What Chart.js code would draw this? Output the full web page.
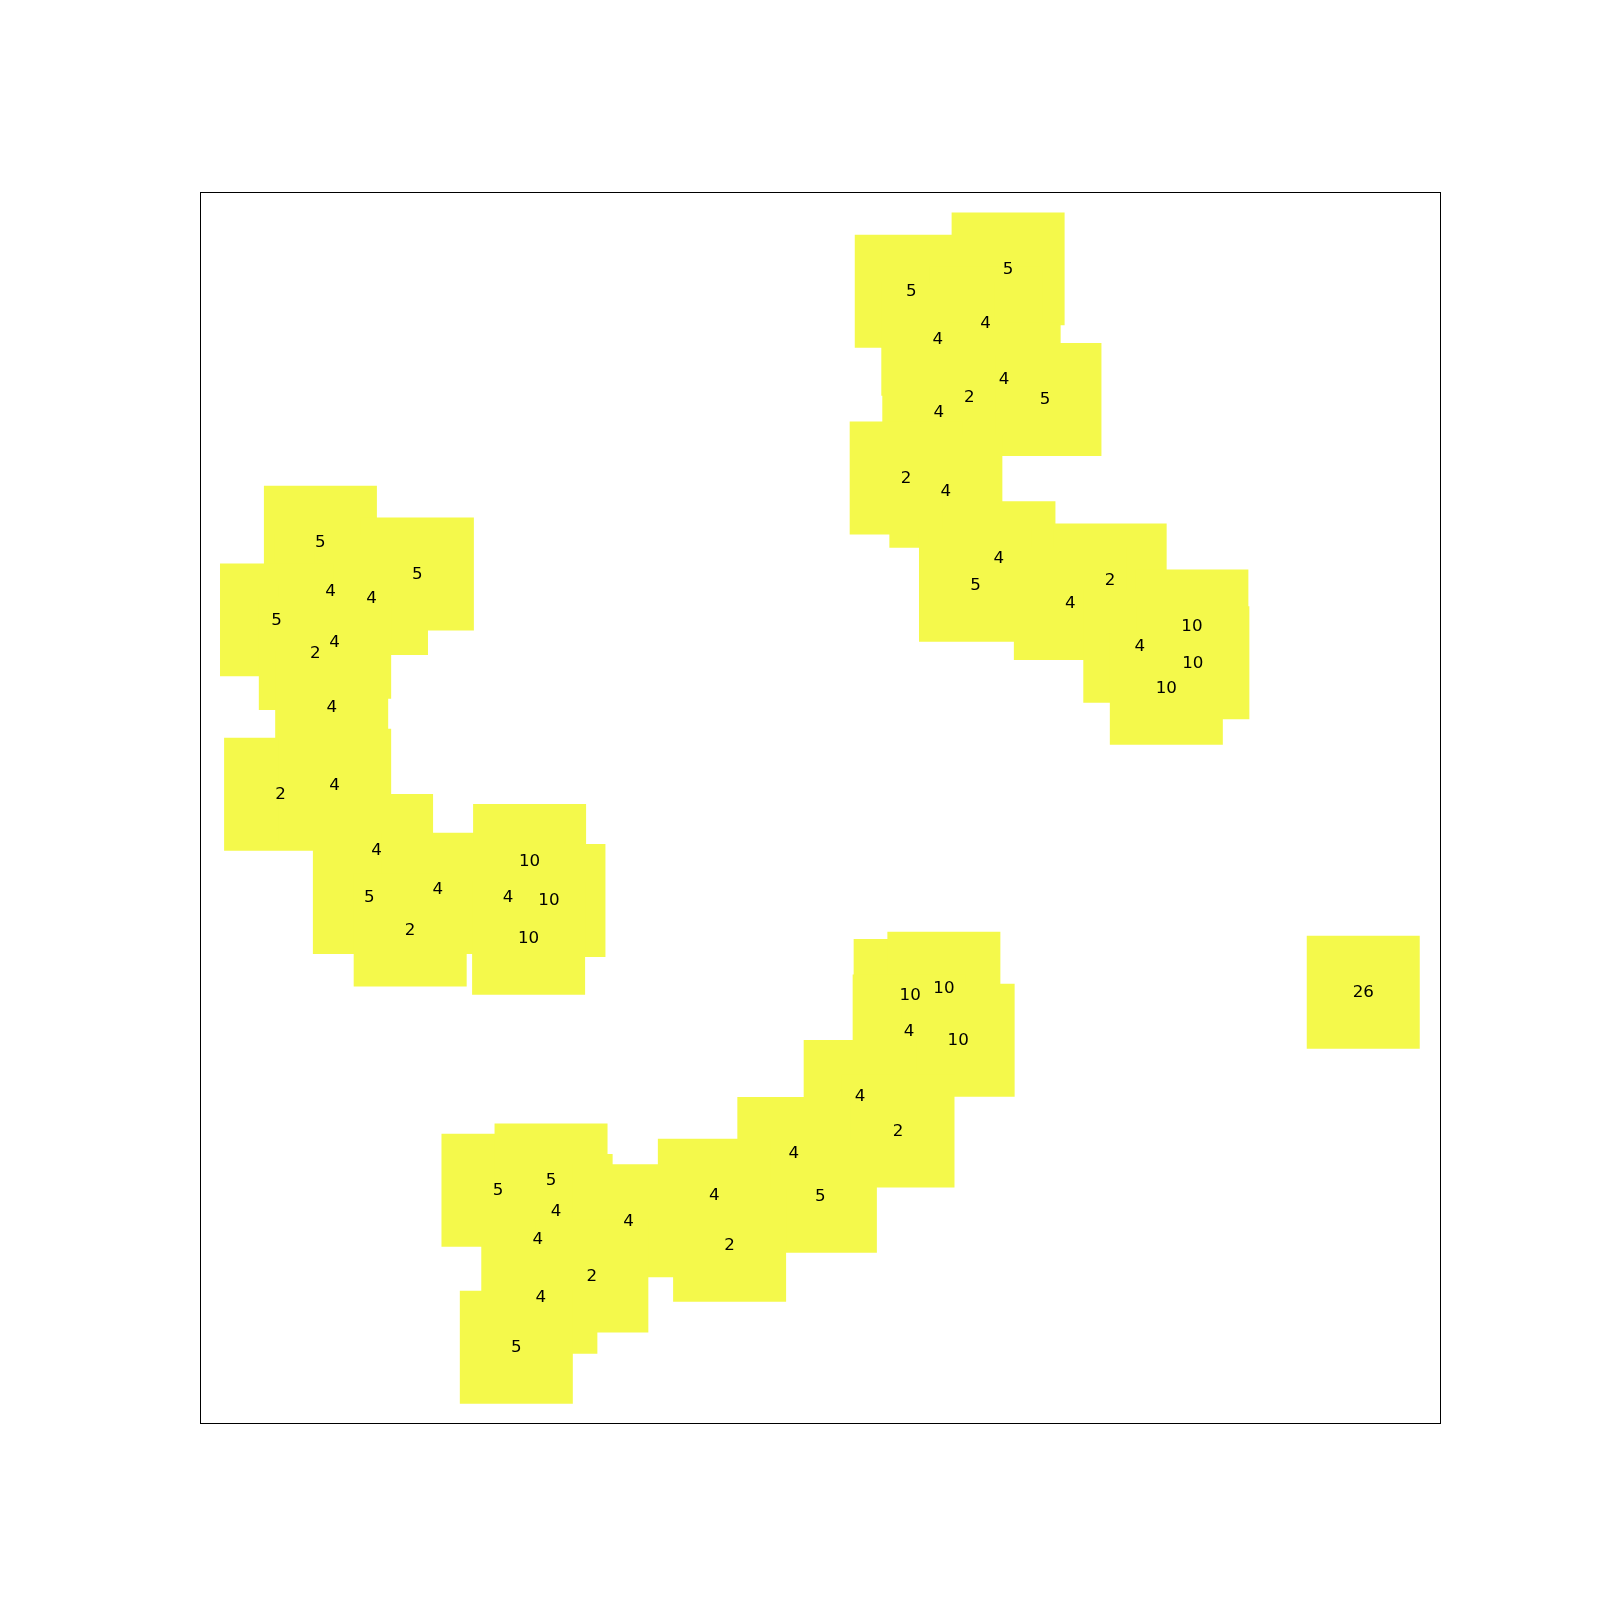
<!DOCTYPE html>
<html>
<head>
<meta charset="utf-8">
<script src="https://cdn.jsdelivr.net/npm/chart.js@4/dist/chart.umd.min.js"></script>
<style>
  html, body { margin: 0; padding: 0; background: #ffffff; }
  canvas { display: block; }
</style>
</head>
<body>
<canvas id="c" width="1600" height="1600"></canvas>
<script>
// Point positions (arbitrary plot units, 0..100 across the frame) and their labels
const xValues = [
  65.17, 57.36, 63.36, 59.50, 64.85, 62.05, 68.14, 59.58, 56.95, 60.15,
  64.43, 62.54, 73.40, 70.19, 79.99, 75.79, 80.07, 77.93,
  9.71, 17.53, 10.53, 13.83, 6.17, 10.86, 9.30, 10.62, 6.50, 10.86,
  14.24, 13.66, 19.17, 16.95, 26.58, 24.85, 28.14, 26.50,
  57.27, 59.99, 57.19, 61.14, 53.24, 56.29, 47.89, 50.03, 41.48, 42.71,
  24.03, 28.31, 28.72, 27.24, 34.56, 31.60, 27.49, 25.51,
  93.81
];
const yValues = [
  93.76, 91.94, 89.37, 88.05, 84.82, 83.33, 83.16, 82.17, 76.79, 75.71,
  70.32, 68.09, 68.50, 66.60, 64.78, 63.12, 61.79, 59.72,
  71.57, 69.00, 67.59, 67.01, 65.27, 63.45, 62.54, 58.15, 51.11, 51.85,
  46.55, 42.74, 43.41, 40.09, 45.73, 42.74, 42.50, 39.43,
  34.79, 35.37, 31.89, 31.15, 26.59, 23.78, 21.95, 18.48, 18.56, 14.50,
  18.97, 19.80, 17.32, 15.00, 16.49, 12.02, 10.28, 6.22,
  35.05
];
const pointLabels = [
  "5", "5", "4", "4", "4", "2", "5", "4", "2", "4",
  "4", "5", "2", "4", "10", "4", "10", "10",
  "5", "5", "4", "4", "5", "4", "2", "4", "2", "4",
  "4", "5", "4", "2", "10", "4", "10", "10",
  "10", "10", "4", "10", "4", "2", "4", "5", "4", "2",
  "5", "5", "4", "4", "4", "2", "4", "5",
  "26"
];
const xRange = [0, 100];
const yRange = [0, 100];

const points = xValues.map((x, i) => ({ x: x, y: yValues[i] }));

const framePlugin = {
  id: 'frame',
  afterDatasetsDraw(chart) {
    const ctx = chart.ctx;
    const a = chart.chartArea;
    const xs = chart.scales.x, ys = chart.scales.y;
    ctx.save();
    ctx.fillStyle = '#000000';
    ctx.font = '16.7px "DejaVu Sans"';
    ctx.textAlign = 'center';
    ctx.textBaseline = 'alphabetic';
    points.forEach((p, i) => {
      ctx.fillText(pointLabels[i], xs.getPixelForValue(p.x), ys.getPixelForValue(p.y) + 4.9);
    });
    ctx.strokeStyle = '#000000';
    ctx.lineWidth = 1;
    const l = Math.round(a.left) + 0.5, t = Math.round(a.top) + 0.5;
    const r = Math.round(a.right) + 0.5, b = Math.round(a.bottom) - 0.5;
    ctx.strokeRect(l, t, r - l, b - t);
    ctx.restore();
  }
};

new Chart(document.getElementById('c'), {
  type: 'scatter',
  data: {
    datasets: [{
      data: points,
      pointStyle: 'rect',
      pointRadius: 79.9,
      pointHoverRadius: 79.9,
      pointBorderWidth: 0,
      borderWidth: 0,
      backgroundColor: '#f4f94b',
      borderColor: '#f4f94b',
      clip: false
    }]
  },
  options: {
    responsive: false,
    animation: false,
    devicePixelRatio: 1,
    layout: { padding: { left: 200, right: 160, top: 192, bottom: 176 } },
    plugins: { legend: { display: false }, tooltip: { enabled: false } },
    events: [],
    scales: {
      x: { type: 'linear', min: xRange[0], max: xRange[1], display: false },
      y: { type: 'linear', min: yRange[0], max: yRange[1], display: false }
    }
  },
  plugins: [framePlugin]
});
</script>
</body>
</html>
